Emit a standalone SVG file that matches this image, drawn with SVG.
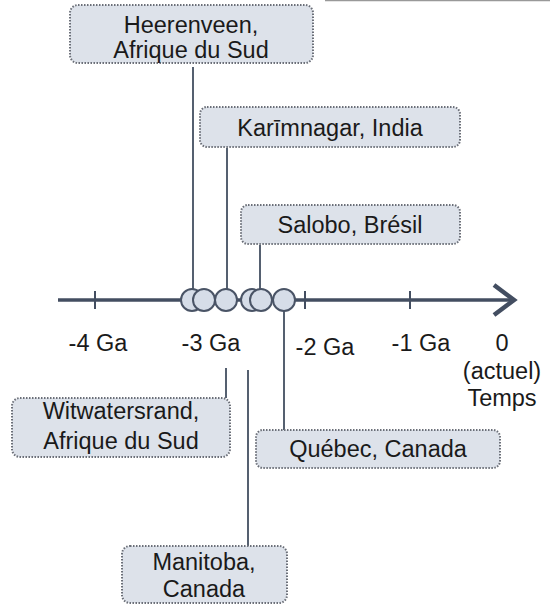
<svg xmlns="http://www.w3.org/2000/svg" width="550" height="606" viewBox="0 0 550 606">
<style>
.box{fill:#dde2ea;stroke:#6b6f78;stroke-width:2;stroke-dasharray:1.5 1.5}
.t{font-family:"Liberation Sans",Arial,sans-serif;font-size:23.5px;fill:#1a1a1a;text-anchor:middle}
.c{stroke:#556070;stroke-width:2;fill:none}
.dot{fill:#d6dde8;stroke:#4a5466;stroke-width:2}
</style>
<rect width="550" height="606" fill="#fff"/>
<line x1="325" y1="0.5" x2="550" y2="0.5" stroke="#999" stroke-width="1.5"/>
<g id="connectors">
<line class="c" x1="193" y1="67" x2="193" y2="292"/>
<line class="c" x1="227" y1="148" x2="227" y2="292"/>
<line class="c" x1="260" y1="245" x2="260" y2="292"/>
<line class="c" x1="284" y1="308" x2="284" y2="430"/>
<line class="c" x1="226" y1="368" x2="226" y2="398"/>
<line class="c" x1="248" y1="370" x2="248" y2="546"/>
</g>
<g id="axis">
<line x1="58" y1="300" x2="513" y2="300" stroke="#434e61" stroke-width="3.5"/>
<polyline points="494,285 514,300 494,315" fill="none" stroke="#434e61" stroke-width="4.5"/>
<g stroke="#434e61" stroke-width="2">
<line x1="95" y1="291" x2="95" y2="309"/>
<line x1="305" y1="291" x2="305" y2="309"/>
<line x1="410" y1="291" x2="410" y2="309"/>
</g>
<text class="t" x="98" y="351">-4 Ga</text>
<text class="t" x="211" y="351">-3 Ga</text>
<text class="t" x="325" y="355">-2 Ga</text>
<text class="t" x="421" y="351">-1 Ga</text>
<text class="t" x="502" y="351">0</text>
<text class="t" x="502" y="379">(actuel)</text>
<text class="t" x="502" y="406">Temps</text>
</g>
<g id="dots">
<circle class="dot" cx="192" cy="300" r="11"/>
<circle class="dot" cx="204" cy="300" r="11"/>
<circle class="dot" cx="226" cy="300" r="11"/>
<circle class="dot" cx="252" cy="300" r="11"/>
<circle class="dot" cx="261" cy="300" r="11"/>
<circle class="dot" cx="284" cy="300" r="11"/>
</g>
<g id="heerenveen">
<rect class="box" x="70" y="5" width="243" height="58" rx="8"/>
<text class="t" x="191" y="33">Heerenveen,</text>
<text class="t" x="191" y="58">Afrique du Sud</text>
</g>
<g id="karimnagar">
<rect class="box" x="200" y="107" width="260" height="40" rx="7"/>
<text class="t" x="330" y="136">Karīmnagar, India</text>
</g>
<g id="salobo">
<rect class="box" x="241" y="205" width="219" height="39" rx="7"/>
<text class="t" x="350" y="233">Salobo, Brésil</text>
</g>
<g id="witwatersrand">
<rect class="box" x="12" y="398" width="218" height="59" rx="8"/>
<text class="t" x="121" y="419">Witwatersrand,</text>
<text class="t" x="121" y="449">Afrique du Sud</text>
</g>
<g id="quebec">
<rect class="box" x="256" y="430" width="244" height="38" rx="7"/>
<text class="t" x="378" y="457">Québec, Canada</text>
</g>
<g id="manitoba">
<rect class="box" x="122" y="546" width="165" height="57" rx="8"/>
<text class="t" x="204" y="570">Manitoba,</text>
<text class="t" x="204" y="597">Canada</text>
</g>
</svg>
